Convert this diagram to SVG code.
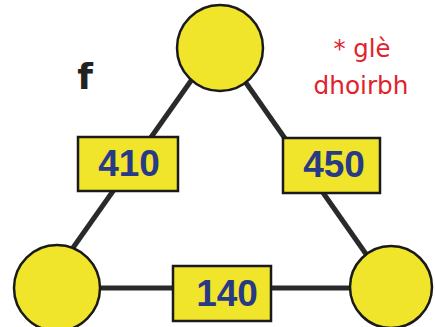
<svg xmlns="http://www.w3.org/2000/svg" width="435" height="327" viewBox="0 0 435 327">
<style>
.node{fill:#f1e52c;stroke:#1a1a1a;stroke-width:2.5}
.box{fill:#f1e52c;stroke:#1a1a1a;stroke-width:2.5}
.edge{stroke:#2a2a2a;stroke-width:5;stroke-linecap:butt;fill:none}
.num{font-family:"Liberation Sans",Arial,sans-serif;font-weight:bold;font-size:37px;fill:#283a86;text-anchor:middle}
.red{font-family:"DejaVu Sans","Liberation Sans",sans-serif;font-size:24px;fill:#e2222a;text-anchor:middle}
</style>
<rect width="435" height="327" fill="#ffffff"/>
<g id="connectors">
<line class="edge" x1="200" y1="68" x2="70" y2="252"/>
<line class="edge" x1="237" y1="70" x2="366" y2="254"/>
<line class="edge" x1="95" y1="288" x2="355" y2="288"/>
</g>
<g id="node-top"><circle class="node" cx="220" cy="48" r="43"/></g>
<g id="node-left"><circle class="node" cx="57" cy="288" r="43"/></g>
<g id="node-right"><circle class="node" cx="391" cy="287" r="41"/></g>
<g id="box-410"><rect class="box" x="78" y="137" width="100" height="54"/><text class="num" x="129" y="176">410</text></g>
<g id="box-450"><rect class="box" x="283" y="138" width="97" height="55"/><text class="num" x="334" y="177">450</text></g>
<g id="box-140"><rect class="box" x="173" y="266" width="98" height="55"/><text class="num" x="227" y="306">140</text></g>
<text x="85" y="89" font-family="DejaVu Sans,Liberation Sans,sans-serif" font-weight="bold" font-size="36" fill="#222" text-anchor="middle">f</text>
<text class="red" x="362" y="57" textLength="57" lengthAdjust="spacingAndGlyphs">* glè</text>
<text class="red" x="361" y="94" textLength="95" lengthAdjust="spacingAndGlyphs">dhoirbh</text>
</svg>
